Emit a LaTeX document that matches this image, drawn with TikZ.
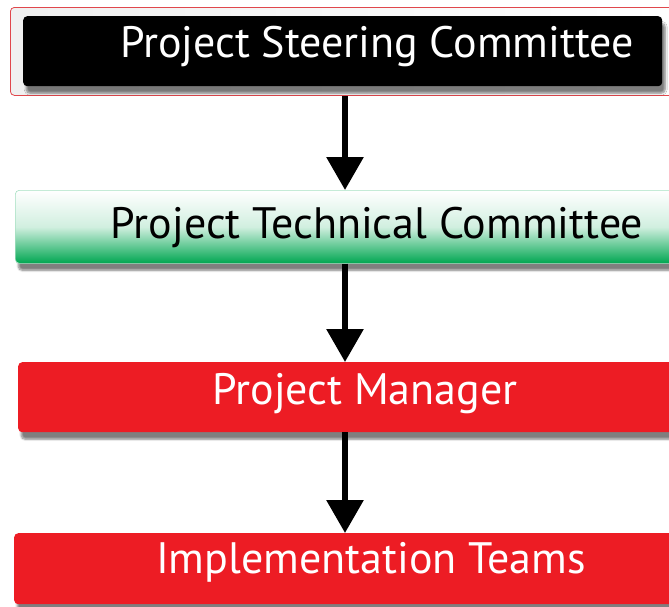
\documentclass[tikz,border=0pt]{standalone}
\usepackage{fontspec}
\setmainfont{PT Sans}
\usetikzlibrary{arrows.meta,shadows.blur}
\definecolor{boxred}{HTML}{ED1C24}
\definecolor{boxgreen}{HTML}{00A651}
\definecolor{framered}{HTML}{E0474C}
\tikzset{
  plainbox/.style={rectangle, rounded corners=4pt, anchor=north west, inner sep=0pt},
  box/.style={plainbox,
    blur shadow={shadow xshift=3pt, shadow yshift=-7pt, shadow blur steps=8, shadow opacity=50}},
  bigfont/.style={font=\fontsize{44}{48}\selectfont},
  lbl/.style={bigfont, inner sep=0pt},
  arr/.style={line width=6pt, -{Triangle[width=36pt,length=33pt]}},
}
\begin{document}
\begin{tikzpicture}[x=1pt,y=-1pt]
\useasboundingbox (0,0) rectangle (669,606);
% top frame
\node[plainbox, draw=framered, line width=0.8pt, left color=black!6, right color=white, minimum width=700pt, minimum height=88pt] (frame) at (10,7) {};
\node[box, fill=black, minimum width=639pt, minimum height=70pt] (psc) at (23,16) {};
\node[lbl, text=white] (psclbl) at (377,46) {Project Steering Committee};
% technical committee
\node[box, draw=boxgreen!35, line width=0.6pt, top color=white, bottom color=boxgreen, middle color=boxgreen!18, minimum width=724pt, minimum height=73pt] (ptc) at (15,190) {};
\node[lbl, text=black] (ptclbl) at (377,227) {Project Technical Committee};
% project manager
\node[box, fill=boxred, minimum width=694pt, minimum height=70pt] (pm) at (18,362) {};
\node[lbl, text=white] (pmlbl) at (365,394) {Project Manager};
% implementation teams
\node[box, fill=boxred, minimum width=714pt, minimum height=71pt] (it) at (14,533) {};
\node[lbl, text=white] (itlbl) at (371,562) {Implementation Teams};
% arrows
\coordinate (ax) at (345,0);
\draw[arr] (frame.south -| ax) -- (ptc.north -| ax);
\draw[arr] (ptc.south -| ax) -- (pm.north -| ax);
\draw[arr] (pm.south -| ax) -- (it.north -| ax);
\end{tikzpicture}
\end{document}
